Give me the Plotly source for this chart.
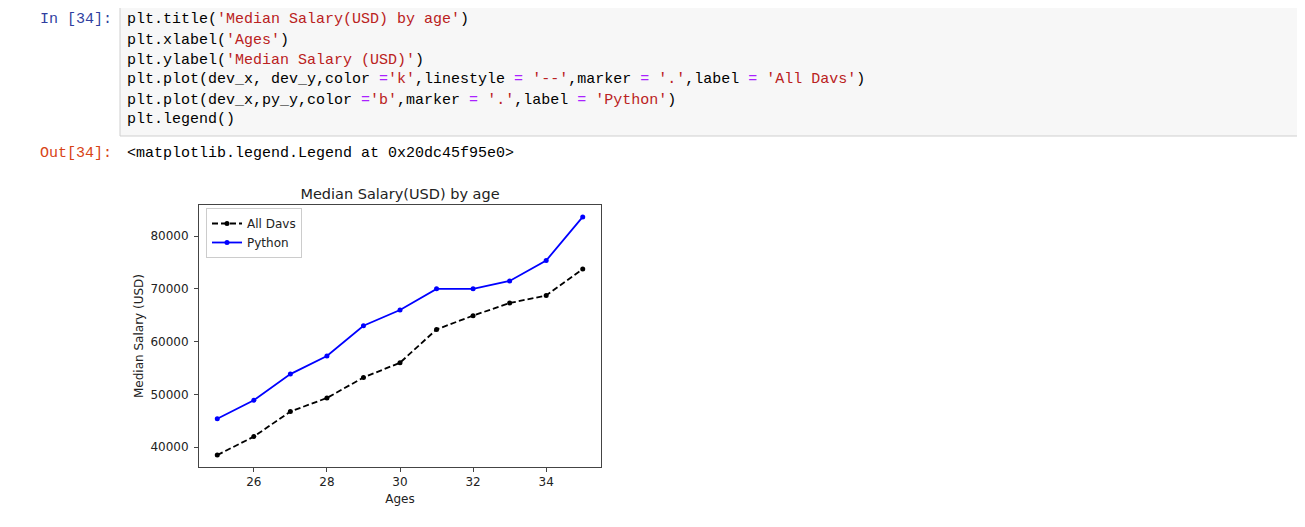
import re
import plotly.graph_objects as go

# ---- data ----
ages = [25, 26, 27, 28, 29, 30, 31, 32, 33, 34, 35]
dev_y = [38496, 42000, 46752, 49320, 53200, 56000, 62316, 64928, 67317, 68748, 73752]
py_y = [45372, 48876, 53850, 57287, 63016, 65998, 70003, 70000, 71496, 75370, 83640]
x_ticks = [26, 28, 30, 32, 34]
y_ticks = [40000, 50000, 60000, 70000, 80000]
series_names = ["All Davs", "Python"]

chart_title = "Median Salary(USD) by age"
x_title = "Ages"
y_title = "Median Salary (USD)"

code_lines = [
    "plt.title('Median Salary(USD) by age')",
    "plt.xlabel('Ages')",
    "plt.ylabel('Median Salary (USD)')",
    "plt.plot(dev_x, dev_y,color ='k',linestyle = '--',marker = '.',label = 'All Davs')",
    "plt.plot(dev_x,py_y,color ='b',marker = '.',label = 'Python')",
    "plt.legend()",
]
in_prompt = "In [34]:"
out_prompt = "Out[34]:"
out_text = "<matplotlib.legend.Legend at 0x20dc45f95e0>"

# page has an 8px body margin; figure sized to end at the window edge
OFF = 8
W, H = 1305 - OFF, 527 - OFF
def px(x):
    return (x - OFF) / W
def py(y):
    return 1 - (y - OFF) / H

def esc(s):
    return s.replace("&", "&amp;").replace("<", "&lt;").replace(">", "&gt;").replace(" ", "\u00a0")

def highlight(line):
    parts = re.split(r"('[^']*'|=)", line)
    out = []
    for p in parts:
        if not p:
            continue
        if p.startswith("'"):
            out.append('<span style="color:#BA2121">' + esc(p) + "</span>")
        elif p == "=":
            out.append('<span style="color:#AA22FF">=</span>')
        else:
            out.append(esc(p))
    return "".join(out)

fig = go.Figure()
fig.add_trace(go.Scatter(
    x=ages, y=dev_y, name=series_names[0], mode="lines+markers",
    line=dict(color="#000000", width=1.8, dash="6px,3px"),
    marker=dict(color="#000000", size=5),
))
fig.add_trace(go.Scatter(
    x=ages, y=py_y, name=series_names[1], mode="lines+markers",
    line=dict(color="#0000FF", width=1.8),
    marker=dict(color="#0000FF", size=5),
))

axis_font = dict(family="DejaVu Sans", size=12, color="#222222")
fig.update_layout(
    width=W, height=H, autosize=False,
    margin=dict(l=0, r=0, t=0, b=0),
    paper_bgcolor="white", plot_bgcolor="white",
    font=dict(family="DejaVu Sans", size=12, color="#222222"),
    title=dict(text=chart_title, x=px(400), xanchor="center", y=py(194), yanchor="middle",
               font=dict(family="DejaVu Sans", size=14.5, color="#222222")),
    xaxis=dict(domain=[px(199), px(601)], range=[24.5, 35.5], tickvals=x_ticks,
               showgrid=False, zeroline=False, showline=True, mirror=True,
               linecolor="#444444", linewidth=1, ticks="outside", ticklen=4,
               tickcolor="#444444", tickfont=axis_font,
               title=dict(text=x_title, font=axis_font, standoff=6)),
    yaxis=dict(domain=[py(467), py(205)], range=[36239, 85897], tickvals=y_ticks,
               tickformat="d", ticklabelstandoff=3,
               showgrid=False, zeroline=False, showline=True, mirror=True,
               linecolor="#444444", linewidth=1, ticks="outside", ticklen=4,
               tickcolor="#444444", tickfont=axis_font,
               title=dict(text=y_title, font=axis_font, standoff=4)),
    legend=dict(x=px(206), y=py(208), xanchor="left", yanchor="top",
                bgcolor="white", bordercolor="#CCCCCC", borderwidth=1,
                font=dict(family="DejaVu Sans", size=12, color="#222222"),
                tracegroupgap=0),
    showlegend=True,
)

# code cell box
fig.add_shape(type="rect", xref="paper", yref="paper",
              x0=px(120), x1=px(1302), y0=py(136), y1=py(2),
              fillcolor="#F7F7F7", line=dict(color="#CFCFCF", width=1), layer="below")

mono = "Liberation Mono"
for i, line in enumerate(code_lines):
    fig.add_annotation(xref="paper", yref="paper", x=px(125), y=py(20 + 20 * i),
                       xanchor="left", yanchor="middle", showarrow=False,
                       text=highlight(line), font=dict(family=mono, size=15, color="#000000"))

fig.add_annotation(xref="paper", yref="paper", x=px(114), y=py(20),
                   xanchor="right", yanchor="middle", showarrow=False,
                   text=esc(in_prompt), font=dict(family=mono, size=15, color="#303F9F"))
fig.add_annotation(xref="paper", yref="paper", x=px(114), y=py(153),
                   xanchor="right", yanchor="middle", showarrow=False,
                   text=esc(out_prompt), font=dict(family=mono, size=15, color="#D84315"))
fig.add_annotation(xref="paper", yref="paper", x=px(125), y=py(153),
                   xanchor="left", yanchor="middle", showarrow=False,
                   text=esc(out_text), font=dict(family=mono, size=15, color="#000000"))

fig.write_html("out.html")
